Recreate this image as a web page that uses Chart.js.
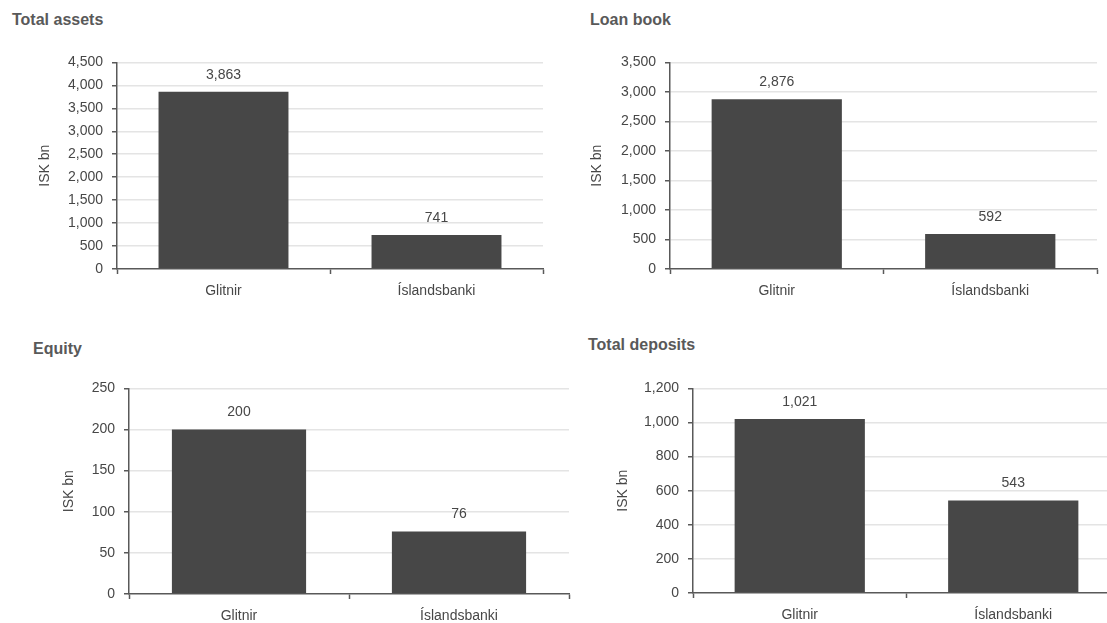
<!DOCTYPE html>
<html>
<head>
<meta charset="utf-8">
<script src="https://cdn.jsdelivr.net/npm/chart.js@4.4.1/dist/chart.umd.min.js"></script>
<style>
  html, body { margin:0; padding:0; background:#fff; width:1107px; height:623px; overflow:hidden; }
  .panel-title { position:absolute; font:bold 16px "Liberation Sans", Arial, sans-serif; color:#595959; line-height:18px; white-space:nowrap; }
  canvas { position:absolute; }
</style>
</head>
<body>
<div id="wrap"></div>
<script>
  // --- data ---
  const banks = ['Glitnir', 'Íslandsbanki'];
  const totalAssets = [3863, 741];
  const loanBook = [2876, 592];
  const equity = [200, 76];
  const totalDeposits = [1021, 543];
  const panelTitles = ['Total assets', 'Loan book', 'Equity', 'Total deposits'];
  const yMax = [4500, 3500, 250, 1200];
  const yStep = [500, 500, 50, 200];
  const yAxisTitle = 'ISK bn';

  // --- look ---
  const BAR = '#474747', AXIS = '#595959', GRID = '#e4e4e4', TXT = '#474747';
  const FONT = { family:'"Liberation Sans", Arial, sans-serif', size:14 };
  const Y_W = 80, X_H = 45, PAD_T = 12, PAD_R = 4;

  // plot boxes [left, top, right, bottom], title spot, y title centre
  const panels = [
    { title:[12, 11],  area:[117, 57, 543, 269],  yTitleX:45 },
    { title:[590, 11], area:[670, 57, 1097, 269], yTitleX:597 },
    { title:[33, 340], area:[129, 383, 569, 594], yTitleX:69 },
    { title:[588, 336], area:[693, 383, 1120, 593], yTitleX:623 },
  ];
  const series = [totalAssets, loanBook, equity, totalDeposits];

  const valueLabels = {
    id:'valueLabels',
    afterDatasetsDraw(chart){
      const { ctx } = chart;
      const ds = chart.data.datasets[0];
      ctx.save();
      ctx.font = `${FONT.size}px ${FONT.family}`;
      ctx.fillStyle = TXT; ctx.textAlign = 'center'; ctx.textBaseline = 'middle';
      chart.getDatasetMeta(0).data.forEach((bar, i) => {
        ctx.fillText(ds.data[i].toLocaleString('en-US'), bar.x, bar.y - 17);
      });
      ctx.restore();
    }
  };

  const wrap = document.getElementById('wrap');
  panels.forEach((p, i) => {
    const t = document.createElement('div');
    t.className = 'panel-title';
    t.textContent = panelTitles[i];
    t.style.left = p.title[0] + 'px'; t.style.top = p.title[1] + 'px';
    wrap.appendChild(t);

    const [l, tp, r, b] = p.area;
    const cv = document.createElement('canvas');
    const w = r - l + Y_W + PAD_R, h = b - tp + PAD_T + X_H;
    cv.width = w; cv.height = h;
    cv.style.width = w + 'px'; cv.style.height = h + 'px';
    cv.style.left = (l - Y_W) + 'px'; cv.style.top = (tp - PAD_T) + 'px';
    wrap.appendChild(cv);

    new Chart(cv, {
      type:'bar',
      data:{ labels:banks, datasets:[{ data:series[i], backgroundColor:BAR, borderWidth:0, barPercentage:1, categoryPercentage:0.61 }] },
      options:{
        responsive:false, animation:false, locale:'en-US',
        layout:{ padding:{ top:PAD_T, right:PAD_R, left:0, bottom:0 } },
        plugins:{ legend:{ display:false }, tooltip:{ enabled:false } },
        scales:{
          x:{
            grid:{ display:true, drawOnChartArea:false, offset:true, tickLength:5, tickColor:AXIS, tickWidth:1.5 },
            border:{ color:AXIS, width:1.5 },
            ticks:{ font:FONT, color:TXT, padding:9 },
            afterFit(s){ s.height = X_H; }
          },
          y:{
            min:0, max:yMax[i],
            ticks:{ stepSize:yStep[i], font:FONT, color:TXT, padding:9 },
            grid:{ color:c => c.tick && c.tick.value === 0 ? 'rgba(0,0,0,0)' : GRID, lineWidth:1.5, tickLength:5, tickColor:AXIS, tickWidth:1.5 },
            border:{ color:AXIS, width:1.5 },
            title:{ display:true, text:yAxisTitle, font:FONT, color:TXT, padding:{ top:p.yTitleX - (l - Y_W) - FONT.size * 0.6, bottom:0 } },
            afterFit(s){ s.width = Y_W; }
          }
        }
      },
      plugins:[valueLabels]
    });
  });
</script>
</body>
</html>
